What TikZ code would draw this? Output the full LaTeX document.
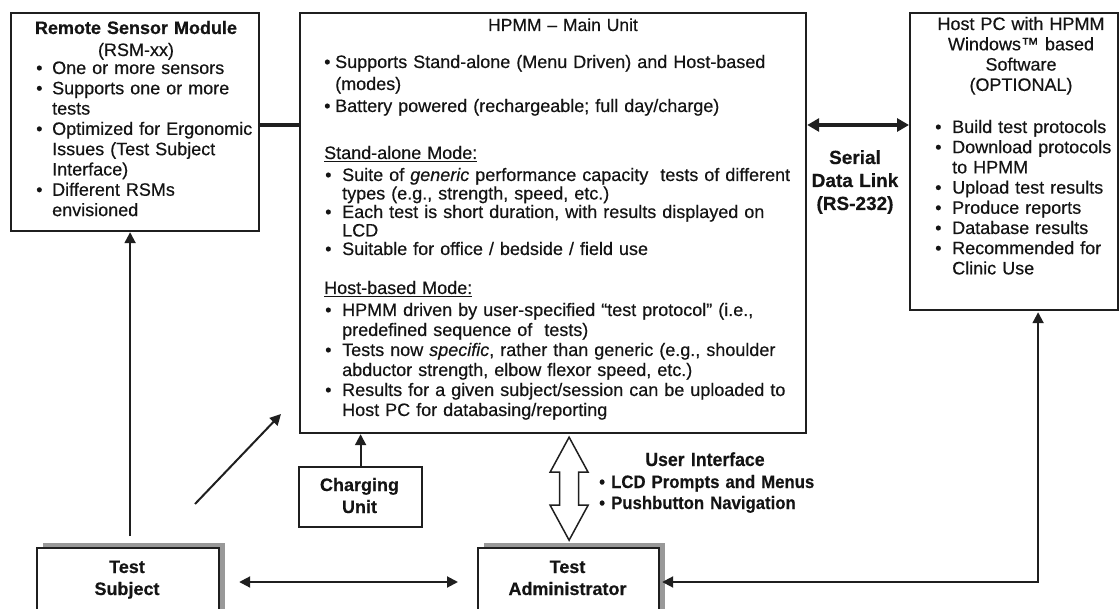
\documentclass[tikz,border=0pt]{standalone}
\usepackage{fontspec}
\setmainfont{Liberation Sans}[FakeBold=0.4]
\newfontfamily\uifont[FakeStretch=0.93,FakeBold=0.4]{Liberation Sans}
\usetikzlibrary{arrows.meta,calc,shadows}
\newcommand{\bl}[1]{\makebox[#1][l]{\textbullet}}
\newcommand{\ind}[1]{\hspace*{#1}}
\newcommand{\ulx}[1]{\setbox0\hbox{#1}\rlap{\rule[-3.4pt]{\wd0}{1.4pt}}\box0}
\newcommand{\fsz}[2]{\fontsize{#1}{#2}\selectfont}
\begin{document}
\begin{tikzpicture}[x=1pt,y=-1pt,
  box/.style={draw=black!88, line width=2.2pt, anchor=north west, inner sep=0pt, fill=white},
  sbox/.style={box, drop shadow={shadow xshift=6pt, shadow yshift=5pt, fill=black!40, opacity=1}},
  ltxt/.style={inner sep=0pt, anchor=base west, align=left, text width=#1, text=black!92},
  ltxt/.default=480pt,
  ctxt/.style={inner sep=0pt, anchor=base, align=center, text width=#1, text=black!92},
  ctxt/.default=220pt,
  conn/.style={draw=black!88, line width=2pt},
  tip/.style={-{Triangle[length=11pt,width=11pt]}},
  dtip/.style={{Triangle[length=11pt,width=11pt]}-{Triangle[length=11pt,width=11pt]}},
  btip/.style={{Triangle[length=12pt,width=13pt]}-{Triangle[length=12pt,width=13pt]}},
]
\useasboundingbox (0,0) rectangle (1119,609);
\clip (0,0) rectangle (1119,609);

% ---------- boxes ----------
\node[box, minimum width=248pt, minimum height=218pt] (rsm) at (10,12) {};
\node[box, minimum width=506pt, minimum height=420pt] (main) at (299,12) {};
\node[box, minimum width=208pt, minimum height=297pt] (host) at (909,12) {};
\node[box, minimum width=123pt, minimum height=60pt] (chg) at (298,466) {};
\node[sbox, minimum width=182pt, minimum height=100pt] (subj) at (36,547) {};
\node[sbox, minimum width=181pt, minimum height=100pt] (adm) at (477,547) {};

% ---------- RSM text ----------
\node[ctxt=240pt, font=\fsz{18}{22}] (rsmT) at (136,34)
  {\bfseries Remote Sensor Module\\\mdseries (RSM-xx)};
\node[ltxt=225pt, font=\fsz{18}{20.3}] (rsmB) at (36,74)
  {\bl{16pt}One or more sensors\\
   \bl{16pt}Supports one or more\\
   \ind{16pt}tests\\
   \bl{16pt}Optimized for Ergonomic\\
   \ind{16pt}Issues (Test Subject\\
   \ind{16pt}Interface)\\
   \bl{16pt}Different RSMs\\
   \ind{16pt}envisioned};

% ---------- Main unit text ----------
\node[ctxt=300pt, font=\fsz{17.5}{20}] (mainT) at (563,31) {HPMM -- Main Unit};
\node[ltxt, font=\fsz{18}{22}] (mainB1) at (324,68)
  {\bl{11pt}Supports Stand-alone (Menu Driven) and Host-based\\
   \ind{11pt}(modes)\\
   \bl{11pt}Battery powered (rechargeable; full day/charge)};
\node[ltxt, font=\fsz{18}{20}] (saH) at (324,159) {\ulx{Stand-alone Mode:}};
\node[ltxt, font=\fsz{18}{18.5}] (mainB2) at (325,181)
  {\bl{17pt}Suite of \textit{generic} performance capacity\ \ tests of different\\
   \ind{17pt}types (e.g., strength, speed, etc.)\\
   \bl{17pt}Each test is short duration, with results displayed on\\
   \ind{17pt}LCD\\
   \bl{17pt}Suitable for office / bedside / field use};
\node[ltxt, font=\fsz{18}{20}] (hbH) at (324,294) {\ulx{Host-based Mode:}};
\node[ltxt, font=\fsz{18}{20}] (mainB3) at (325,316)
  {\bl{17pt}HPMM driven by user-specified “test protocol” (i.e.,\\
   \ind{17pt}predefined sequence of\ \ tests)\\
   \bl{17pt}Tests now \textit{specific}, rather than generic (e.g., shoulder\\
   \ind{17pt}abductor strength, elbow flexor speed, etc.)\\
   \bl{17pt}Results for a given subject/session can be uploaded to\\
   \ind{17pt}Host PC for databasing/reporting};

% ---------- Host PC text ----------
\node[ctxt=205pt, font=\fsz{18}{20.3}] (hostT) at (1021,30)
  {Host PC with HPMM\\Windows™ based\\Software\\(OPTIONAL)};
\node[ltxt=180pt, font=\fsz{18}{20.2}] (hostB) at (935,133)
  {\bl{17pt}Build test protocols\\
   \bl{17pt}Download protocols\\
   \ind{17pt}to HPMM\\
   \bl{17pt}Upload test results\\
   \bl{17pt}Produce reports\\
   \bl{17pt}Database results\\
   \bl{17pt}Recommended for\\
   \ind{17pt}Clinic Use};

% ---------- other labels ----------
\node[ctxt=110pt, font=\fsz{19}{23}\bfseries] (serial) at (855,164)
  {Serial\\Data Link\\(RS-232)};
\node[ctxt=200pt, font=\uifont\fsz{19}{22}\bfseries] (uiT) at (705,466) {User Interface};
\node[ltxt=240pt, font=\uifont\fsz{18}{21}\bfseries] (uiB) at (599,488)
  {\bl{12pt}LCD Prompts and Menus\\
   \bl{12pt}Pushbutton Navigation};
\node[ctxt=120pt, font=\fsz{18}{22}\bfseries] (chgT) at (359.5,491) {Charging\\Unit};
\node[ctxt=180pt, font=\fsz{18}{22}\bfseries] (subjT) at (127,573) {Test\\Subject};
\node[ctxt=180pt, font=\fsz{18}{22}\bfseries] (admT) at (567.5,573) {Test\\Administrator};

% ---------- connectors ----------
\draw[conn, line width=3.6pt] ([yshift=-3pt]rsm.east) -- ([yshift=-3pt]rsm.east -| main.west);
\draw[conn, line width=3.6pt, btip]
  ([yshift=-113pt]main.north east) -- ([yshift=-113pt]host.north west);
\draw[conn, tip] ([xshift=2pt,yshift=11pt]subj.north) -- ([xshift=2pt]subj.north |- rsm.south);
\coordinate (d0) at (195,504);
\coordinate (d1) at (281,414);
\draw[conn, tip] (d0) -- (d1);
\draw[conn, tip] (chg.north) -- (chg.north |- main.south);
\draw[conn, dtip] ([xshift=19pt,yshift=-35pt]subj.north east) -- ([xshift=-19pt,yshift=-35pt]adm.north west);
\draw[conn, dtip] ([xshift=24pt,yshift=-1pt]host.south) |- ([xshift=2pt,yshift=-35pt]adm.north east);

% hollow double arrow (user interface)
\coordinate (ua) at ([xshift=16pt,yshift=-3pt]main.south);
\draw[draw=black!88, line width=1.5pt, fill=white, line join=miter]
  (ua) -- ++(19,35) -- ++(-9.5,0) -- ++(0,33) -- ++(9.5,0) -- ++(-19,35)
  -- ++(-19,-35) -- ++(9.5,0) -- ++(0,-33) -- ++(-9.5,0) -- cycle;
\end{tikzpicture}
\end{document}
